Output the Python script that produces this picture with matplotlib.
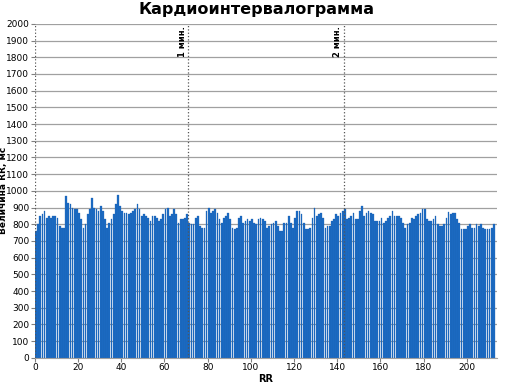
import numpy as np
import matplotlib
matplotlib.use("Agg")
from matplotlib import pyplot as plt

# RR intervals, ms (bar by bar)
rr = [760, 800, 850, 860, 880, 840, 850, 840, 850, 850,
      840, 790, 780, 780, 970, 930, 920, 900, 890, 890,
      870, 830, 780, 800, 860, 890, 960, 895, 890, 880,
      910, 880, 830, 780, 810, 830, 860, 920, 975, 910,
      880, 870, 865, 860, 870, 880, 890, 920, 890, 850,
      860, 850, 840, 820, 850, 850, 840, 820, 830, 860,
      890, 900, 850, 860, 890, 860, 810, 830, 830, 840,
      860, 810, 800, 800, 840, 850, 790, 780, 780, 880,
      900, 870, 880, 890, 870, 830, 810, 840, 850, 870,
      830, 780, 770, 780, 840, 850, 810, 820, 830, 820,
      830, 810, 800, 830, 840, 830, 820, 780, 790, 800,
      810, 820, 790, 760, 760, 810, 810, 850, 810, 780,
      840, 880, 880, 860, 810, 770, 770, 780, 840, 895,
      850, 860, 870, 840, 780, 790, 790, 820, 830, 860,
      850, 870, 880, 890, 830, 840, 850, 870, 830, 830,
      880, 910, 850, 870, 880, 870, 860, 820, 820, 820,
      840, 810, 820, 840, 850, 880, 850, 850, 850, 840,
      810, 780, 800, 810, 840, 830, 850, 860, 870, 890,
      890, 830, 820, 820, 830, 850, 800, 790, 790, 800,
      840, 875, 860, 870, 870, 830, 810, 770, 770, 770,
      790, 800, 780, 780, 800, 790, 800, 780, 770, 770,
      770, 780, 800]
minute_marks = [71, 143]
minute_labels = ["1 мин.", "2 мин."]

x = np.arange(len(rr)) + 0.5

fig = plt.figure(figsize=(5.12, 3.84), dpi=100)
ax = fig.add_axes([0.068, 0.068, 0.903, 0.87])

ax.bar(x, rr, width=0.8, color="#1c6bc4", edgecolor="#1a5fae", linewidth=0.2, zorder=2)

ax.set_xlim(0, 214)
ax.set_ylim(0, 2000)
ax.set_yticks(range(0, 2001, 100))
ax.set_xticks(range(0, 201, 20))
ax.yaxis.grid(True, color="#a0a0a0", linewidth=0.9, zorder=0)
ax.set_axisbelow(True)

for s in ["top", "right", "left"]:
    ax.spines[s].set_visible(False)
ax.spines["bottom"].set_color("#a0a0a0")
ax.axvline(0, color="#555555", linestyle=":", linewidth=0.9, zorder=3)

for m, lab in zip(minute_marks, minute_labels):
    ax.axvline(m, color="#555555", linestyle=":", linewidth=0.9, zorder=3)
    ax.text(m - 0.6, 1985, lab, rotation=90, ha="right", va="top",
            fontsize=6, fontweight="bold")

ax.tick_params(axis="both", labelsize=6.5, length=3, color="#808080", pad=1)
ax.set_xlabel("RR", fontsize=7, fontweight="bold", labelpad=1)
ax.set_ylabel("Величина RR, мс", fontsize=6.5, fontweight="bold")
ax.yaxis.set_label_coords(-0.058, 0.5)
fig.suptitle("Кардиоинтервалограмма", fontsize=11.5, fontweight="bold", y=0.995)

fig.savefig("out.png", dpi=100)
